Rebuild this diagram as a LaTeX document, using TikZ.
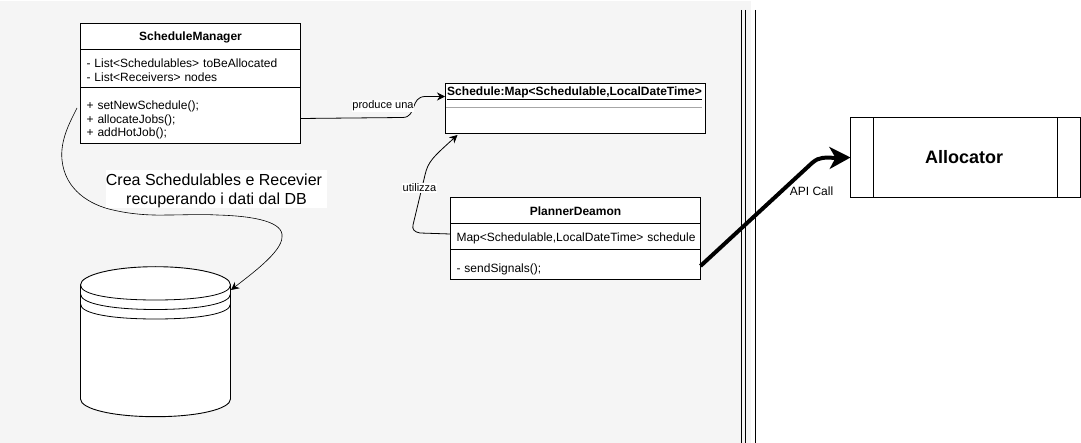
\documentclass[tikz,border=0pt]{standalone}
\usepackage{fontspec}
\setmainfont{Liberation Sans}
\usepackage{tikz}
\usetikzlibrary{positioning, arrows.meta}
\definecolor{panel}{HTML}{F5F5F5}
\tikzstyle{umlhead} = [rectangle, draw=black, fill=white, line width=1pt, outer sep=0pt, inner sep=0pt, font=\fontsize{12}{14}\selectfont\bfseries, text centered]
\tikzstyle{umlbody} = [rectangle, draw=black, fill=white, line width=1pt, outer sep=0pt, inner sep=0pt, font=\fontsize{12}{13.7}\selectfont, align=left]
\tikzstyle{tag} = [fill=white, inner sep=0.5pt, font=\fontsize{11}{13}\selectfont]
\tikzstyle{arrow} = [line width=0.8pt,-{Stealth[length=8pt,width=8pt]}]
\tikzstyle{wall} = [line width=0.9pt]

\begin{document}
\begin{tikzpicture}[x=1pt,y=-1pt,node distance=0pt]
\useasboundingbox (0,0) rectangle (1081,443);

\fill [panel] (0,1) rectangle (750.5,443);

\node (mgrhead) [umlhead, minimum width=220pt, minimum height=26pt] at (190.5,36.5) {\rule{0pt}{11pt}ScheduleManager};
\node (mgrattr) [umlbody, below=of mgrhead, minimum width=220pt, minimum height=38pt, text width=208pt] {\rule{0pt}{12pt}- List<Schedulables> toBeAllocated\\- List<Receivers> nodes};
\node (mgrops) [umlbody, below=of mgrattr, minimum width=220pt, minimum height=56pt, text width=208pt] {\rule{0pt}{18pt}+ setNewSchedule();\\+ allocateJobs();\\+ addHotJob();};

\node (shed) [umlbody, minimum width=260pt, minimum height=50pt] at (575.5,108.5) {};
\node (shedname) [font=\fontsize{12}{14}\selectfont\bfseries, inner sep=0pt] at (574.5,93.5) {\underline{Schedule:Map<Schedulable,LocalDateTime>}};

\node (planhead) [umlhead, minimum width=250pt, minimum height=26.5pt] at (575.5,210.75) {PlannerDeamon};
\node (planattr) [umlbody, below=of planhead, minimum width=250pt, minimum height=26pt, text width=238pt] {\rule{0pt}{11pt}\mbox{Map<Schedulable,LocalDateTime> schedule}};
\node (planops) [umlbody, below=of planattr, minimum width=250pt, minimum height=30pt, text width=238pt] {\rule{0pt}{17pt}- sendSignals();};

\node (alloc) [rectangle, draw=black, line width=1pt, fill=white, minimum width=230pt, minimum height=80pt, outer sep=0pt, font=\fontsize{18}{22}\selectfont\bfseries] at (965.5,157.5) {\hspace{-3pt}Allocator};

% cylinder drawn by hand round an empty node
\node (db) [minimum width=150pt, minimum height=150pt, inner sep=0pt, outer sep=0pt] at (155.5,341.7) {};

\draw [wall, fill=white] (db.north west |- 0,285) .. controls (80.5,275) and (113,266.7) .. (155.5,266.7) .. controls (198,266.7) and (230.5,275) .. (230.5,285) -- (230.5,399) .. controls (230.5,409) and (198,416.7) .. (155.5,416.7) .. controls (113,416.7) and (80.5,409) .. (80.5,399) -- cycle;
\draw [line width=0.8pt] (80.5,285) .. controls (80.5,295) and (113,300) .. (155.5,300) .. controls (198,300) and (230.5,295) .. (230.5,285);
\draw [line width=0.8pt] (80.5,294) .. controls (80.5,304) and (113,309.5) .. (155.5,309.5) .. controls (198,309.5) and (230.5,304) .. (230.5,294);
\draw [line width=0.8pt] (80.5,304) .. controls (80.5,314) and (113,319) .. (155.5,319) .. controls (198,319) and (230.5,314) .. (230.5,304);

\draw [line width=0.8pt] (873.5,117.5) -- (873.5,197.5);
\draw [line width=0.8pt] (1057.5,117.5) -- (1057.5,197.5);
\draw [gray!70, line width=1pt] (446,107.5) -- (702,107.5);

\coordinate (mgrstart) at (77,108);
\coordinate (dbin) at (231,290);
\coordinate (shedin) at (445,96.5);
\coordinate (shedunder) at (457.5,135);
\coordinate (planout) at (450,234);
\coordinate (wallA) at (741,10);
\coordinate (wallB) at (745.5,10);
\coordinate (wallC) at (755.5,10);

\draw [wall] (wallA) -- (wallA |- 0,443);
\draw [wall] (wallB) -- (wallB |- 0,443);
\draw [wall] (wallC) -- (wallC |- 0,443);

\draw [arrow] ([yshift=-3pt]mgrops.east) -- (403,117.5) .. controls (417,117) and (410,97) .. (425,96.5) -- (shedin);
\node (produce) [tag] at (383,106) {produce una};

\draw [arrow] (planout) -- (420,233) .. controls (414,232) and (412,229) .. (413,225) -- (425,175) .. controls (428,162) and (432,158) .. (shedunder);
\node (uses) [tag] at (419.5,188) {utilizza};

\draw [arrow, line width=0.6pt] (mgrstart) .. controls (70,122) and (60,140) .. (62,160) .. controls (65,190) and (90,205) .. (113,210) .. controls (130,214) and (148,215.5) .. (167,215) .. controls (185,215) and (200,214) .. (217,215) .. controls (255,216) and (284,222) .. (282,237) .. controls (282,252) and (250,275) .. (dbin);

\node (note) [fill=white, inner sep=0pt, minimum width=221pt, minimum height=38pt, align=center, font=\fontsize{16}{19}\selectfont] at (216.5,189) {\rule{0pt}{16pt}Crea Schedulables e Recevier\hspace*{5pt}\\recuperando i dati dal DB};

\draw [line width=4pt, -{Stealth[length=21pt,width=22pt,inset=6pt]}] ([yshift=-1pt]planops.east) -- (812,163) .. controls (820,156) and (825,158) .. (alloc.west);
\node (apicall) [font=\fontsize{12}{14}\selectfont, inner sep=0pt] at (811.5,191) {API Call};

\end{tikzpicture}
\end{document}
